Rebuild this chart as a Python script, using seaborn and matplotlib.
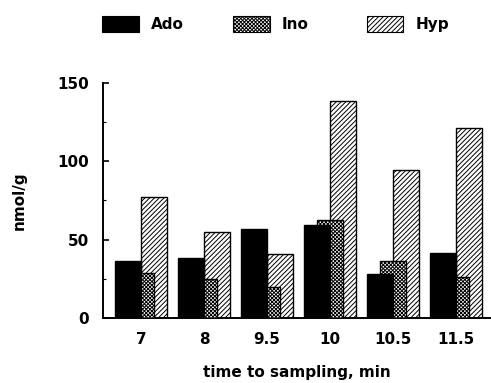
import matplotlib
matplotlib.use("Agg")
import matplotlib.pyplot as plt
from matplotlib.patches import Patch
from matplotlib.ticker import MultipleLocator
import seaborn as sns
import pandas as pd

times = ["7", "8", "9.5", "10", "10.5", "11.5"]
ado = [36, 38.5, 57, 59, 28, 41.5]
ino = [28.5, 25, 19.5, 62.5, 36, 26]
hyp = [77, 55, 41, 138.5, 94.5, 121.5]
compounds = ["Ado", "Ino", "Hyp"]

df = pd.DataFrame({
    "time": times * 3,
    "value": ado + ino + hyp,
    "compound": [c for c in compounds for _ in times],
})

sns.set_style("white")
plt.rcParams["font.family"] = ["DejaVu Sans"]
plt.rcParams["hatch.linewidth"] = 0.7
plt.rcParams["text.color"] = "black"
plt.rcParams["xtick.color"] = "black"
plt.rcParams["ytick.color"] = "black"
plt.rcParams["axes.labelcolor"] = "black"

fig = plt.figure(figsize=(4.91, 3.83), dpi=100)
ax = fig.add_axes([0.21, 0.170, 0.788, 0.6136])

styles = {
    "Ado": dict(face="black", hatch=None, z=4),
    "Ino": dict(face="white", hatch="xxxxxxxxx", z=3),
    "Hyp": dict(face="white", hatch="///////", z=2),
}

sns.barplot(data=df, x="time", y="value", hue="compound", order=times,
            hue_order=compounds, palette={c: styles[c]["face"] for c in compounds},
            width=0.62, dodge=True, legend=False, errorbar=None,
            edgecolor="black", linewidth=1.0, ax=ax)

bw = 0.413
for cont, comp in zip(ax.containers, compounds):
    st = styles[comp]
    for p in cont.patches:
        cx = p.get_x() + p.get_width() / 2
        p.set_width(bw)
        p.set_x(cx - bw / 2)
        p.set_zorder(st["z"])
        p.set_facecolor(st["face"])
        p.set_edgecolor("black")
        if st["hatch"]:
            p.set_hatch(st["hatch"])

ax.set_xlim(-0.603, 5.54)
ax.set_ylim(0, 150)
ax.set_yticks([0, 50, 100, 150])
ax.yaxis.set_minor_locator(MultipleLocator(25))
for s in ["top", "right"]:
    ax.spines[s].set_visible(False)
for s in ["left", "bottom"]:
    ax.spines[s].set_linewidth(1.4)
    ax.spines[s].set_color("black")
ax.tick_params(axis="y", which="major", direction="in", length=4, width=1.2,
               labelsize=11, pad=10, left=True)
ax.tick_params(axis="y", which="minor", direction="in", length=2, width=0.8, left=True)
ax.tick_params(axis="x", length=0, labelsize=11, pad=10)
for lab in ax.get_xticklabels() + ax.get_yticklabels():
    lab.set_fontweight("bold")

ax.set_xlabel("time to sampling, min", fontsize=11, fontweight="bold", labelpad=13)
ax.set_ylabel("nmol/g", fontsize=11, fontweight="bold", labelpad=22)

legend_x = {"Ado": 0.208, "Ino": 0.4745, "Hyp": 0.747}
for c in compounds:
    h = Patch(facecolor=styles[c]["face"], edgecolor="black",
              hatch=styles[c]["hatch"], linewidth=0.8, label=c)
    fig.legend(handles=[h], loc="center left", bbox_to_anchor=(legend_x[c], 0.937),
               frameon=False, prop={"weight": "bold", "size": 11},
               borderpad=0, borderaxespad=0,
               handlelength=2.4, handleheight=1.3, handletextpad=0.8)

fig.savefig("out.png", dpi=100)
